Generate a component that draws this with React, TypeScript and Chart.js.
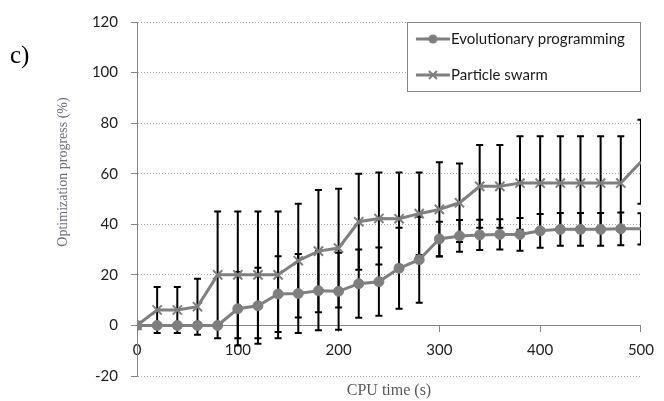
import React, { useEffect, useRef } from "react";
import { Chart, registerables } from "chart.js";

Chart.register(...registerables);

const cpuTime = [0, 20, 40, 60, 80, 100, 120, 140, 160, 180, 200, 220, 240, 260, 280, 300, 320, 340, 360, 380, 400, 420, 440, 460, 480, 500];
const epValues = [0, 0, 0, 0, 0, 6.6, 7.8, 12.4, 12.6, 13.7, 13.5, 16.5, 17.3, 22.6, 26, 34.2, 35.4, 35.8, 36, 36, 37.4, 38, 38, 38, 38.2, 38.2];
const epError = [0, 0, 0, 0, 0, 14.5, 15, 15, 15.6, 15.6, 15.2, 13.5, 13.5, 16, 17, 6.8, 6.3, 6, 6, 6.5, 6.7, 6.5, 6.5, 6.5, 6.5, 6.2];
const psValues = [0, 6.1, 6.1, 7.4, 20, 20, 20, 20, 25.6, 29.4, 30.6, 41, 42.3, 42.2, 44.2, 45.9, 48.5, 55, 55, 56.3, 56.3, 56.3, 56.3, 56.3, 56.3, 64.7];
const psError = [0, 9.1, 9.1, 11.1, 25.1, 25.1, 25.1, 25.1, 22.5, 24.2, 23.5, 19, 18.2, 18.3, 16.3, 18.6, 15.5, 16.4, 16.4, 18.5, 18.5, 18.5, 18.5, 18.5, 18.5, 16.6];
const seriesLabels = ["Evolutionary programming", "Particle swarm"];
const xTitle = "CPU time (s)";
const yTitle = "Optimization progress (%)";
const panelLabel = "c)";

const GRAY = "#7f7f7f";
const AXIS = "#868686";
const TICK_FONT = { family: "Lato", size: 15 };

const errorBarPlugin = {
  id: "errorBars",
  beforeDatasetsDraw(chart: any) {
    const { ctx, chartArea, scales } = chart;
    const x = scales.x;
    const y = scales.y;
    ctx.save();
    ctx.beginPath();
    ctx.rect(chartArea.left, chartArea.top, chartArea.right - chartArea.left, chartArea.bottom - chartArea.top);
    ctx.clip();
    ctx.strokeStyle = "#000";
    ctx.lineWidth = 2;
    const sets: [number[], number[]][] = [
      [epValues, epError],
      [psValues, psError],
    ];
    for (const [vals, errs] of sets) {
      vals.forEach((v, i) => {
        const e = errs[i];
        if (!e) return;
        const px = x.getPixelForValue(cpuTime[i]);
        const top = y.getPixelForValue(v + e);
        const bot = y.getPixelForValue(v - e);
        ctx.beginPath();
        ctx.moveTo(px, top);
        ctx.lineTo(px, bot);
        ctx.moveTo(px - 3.5, top);
        ctx.lineTo(px + 3.5, top);
        ctx.moveTo(px - 3.5, bot);
        ctx.lineTo(px + 3.5, bot);
        ctx.stroke();
      });
    }
    ctx.restore();
  },
};

const decorPlugin = {
  id: "decor",
  afterDraw(chart: any) {
    const { ctx, chartArea } = chart;
    ctx.save();
    // legend box
    const lw = 234;
    const lh = 70;
    const lx = chartArea.right - lw;
    const ly = chartArea.top;
    ctx.fillStyle = "#fff";
    ctx.fillRect(lx, ly, lw, lh);
    ctx.strokeStyle = AXIS;
    ctx.lineWidth = 1;
    ctx.strokeRect(Math.round(lx) + 0.5, Math.round(ly) + 0.5, lw - 1, lh - 1);
    const rows = [ly + 17, ly + 53];
    rows.forEach((ry, k) => {
      const sx = lx + 9;
      ctx.strokeStyle = GRAY;
      ctx.lineWidth = 3;
      ctx.beginPath();
      ctx.moveTo(sx, ry);
      ctx.lineTo(sx + 34, ry);
      ctx.stroke();
      const cx = sx + 17;
      if (k === 0) {
        ctx.fillStyle = GRAY;
        ctx.beginPath();
        ctx.arc(cx, ry, 4.5, 0, Math.PI * 2);
        ctx.fill();
      } else {
        ctx.lineWidth = 2;
        ctx.beginPath();
        ctx.moveTo(cx - 4, ry - 4);
        ctx.lineTo(cx + 4, ry + 4);
        ctx.moveTo(cx - 4, ry + 4);
        ctx.lineTo(cx + 4, ry - 4);
        ctx.stroke();
      }
      ctx.fillStyle = "#1a1a1a";
      ctx.font = "15px Lato";
      ctx.textAlign = "left";
      ctx.textBaseline = "middle";
      ctx.fillText(seriesLabels[k], sx + 35, ry);
    });
    // axis titles
    ctx.fillStyle = "#595959";
    ctx.font = '16px "Liberation Serif"';
    ctx.textAlign = "center";
    ctx.textBaseline = "middle";
    ctx.fillText(xTitle, (chartArea.left + chartArea.right) / 2, 391);
    ctx.save();
    ctx.translate(63, 172);
    ctx.rotate(-Math.PI / 2);
    ctx.fillStyle = "#6e6e7c";
    ctx.font = '14px "Liberation Serif"';
    ctx.fillText(yTitle, 0, 0);
    ctx.restore();
    // panel label
    ctx.fillStyle = "#000";
    ctx.font = '25px "Liberation Serif"';
    ctx.textAlign = "left";
    ctx.textBaseline = "alphabetic";
    ctx.fillText(panelLabel, 10, 63);
    ctx.restore();
  },
};

export default function App() {
  const ref = useRef<HTMLCanvasElement>(null);
  useEffect(() => {
    const canvas = ref.current;
    if (!canvas) return;
    const last = cpuTime.length - 1;
    const chart = new Chart(canvas, {
      type: "line",
      data: {
        datasets: [
          {
            label: seriesLabels[0],
            data: cpuTime.map((x, i) => ({ x, y: epValues[i] })),
            borderColor: GRAY,
            backgroundColor: GRAY,
            borderWidth: 3,
            pointStyle: "circle",
            pointRadius: (c: any) => (c.dataIndex === last ? 0 : 5),
            pointBackgroundColor: GRAY,
            pointBorderColor: GRAY,
            pointBorderWidth: 1,
            tension: 0,
          },
          {
            label: seriesLabels[1],
            data: cpuTime.map((x, i) => ({ x, y: psValues[i] })),
            borderColor: GRAY,
            backgroundColor: GRAY,
            borderWidth: 3,
            pointStyle: "crossRot",
            pointRadius: (c: any) => (c.dataIndex === last ? 0 : 6.5),
            pointBorderColor: GRAY,
            pointBorderWidth: 2,
            tension: 0,
          },
        ],
      },
      options: {
        animation: false,
        responsive: false,
        maintainAspectRatio: false,
        devicePixelRatio: 1,
        layout: { padding: { left: 0, top: 18, right: 16, bottom: 25 } },
        plugins: { legend: { display: false }, tooltip: { enabled: false }, title: { display: false } },
        scales: {
          x: {
            type: "linear",
            min: 0,
            max: 500,
            position: { y: 0 },
            ticks: { stepSize: 100, font: TICK_FONT, color: "#222", padding: 10, maxRotation: 0 },
            grid: { drawOnChartArea: false, drawTicks: true, tickLength: 6, tickColor: AXIS, color: AXIS },
            border: { display: true, color: AXIS, width: 1 },
          },
          y: {
            type: "linear",
            min: -20,
            max: 120,
            ticks: { stepSize: 20, font: TICK_FONT, color: "#222", padding: 13 },
            grid: {
              color: (c: any) => (c.tick && c.tick.value === 0 ? "rgba(0,0,0,0)" : "#a8a8a8"),
              lineWidth: 1,
              drawTicks: true,
              tickLength: 6,
              tickColor: AXIS,
            },
            border: { display: true, color: AXIS, width: 1, dash: [1, 2] },
            afterFit: (s: any) => {
              s.width = 137;
            },
          },
        },
      } as any,
      plugins: [errorBarPlugin, decorPlugin],
    });
    return () => chart.destroy();
  }, []);
  return (
    <div style={{ position: "fixed", left: 0, top: 0, width: 664, height: 401, background: "#fff" }}>
      <canvas ref={ref} width={664} height={401} style={{ display: "block", width: 664, height: 401 }} />
    </div>
  );
}
